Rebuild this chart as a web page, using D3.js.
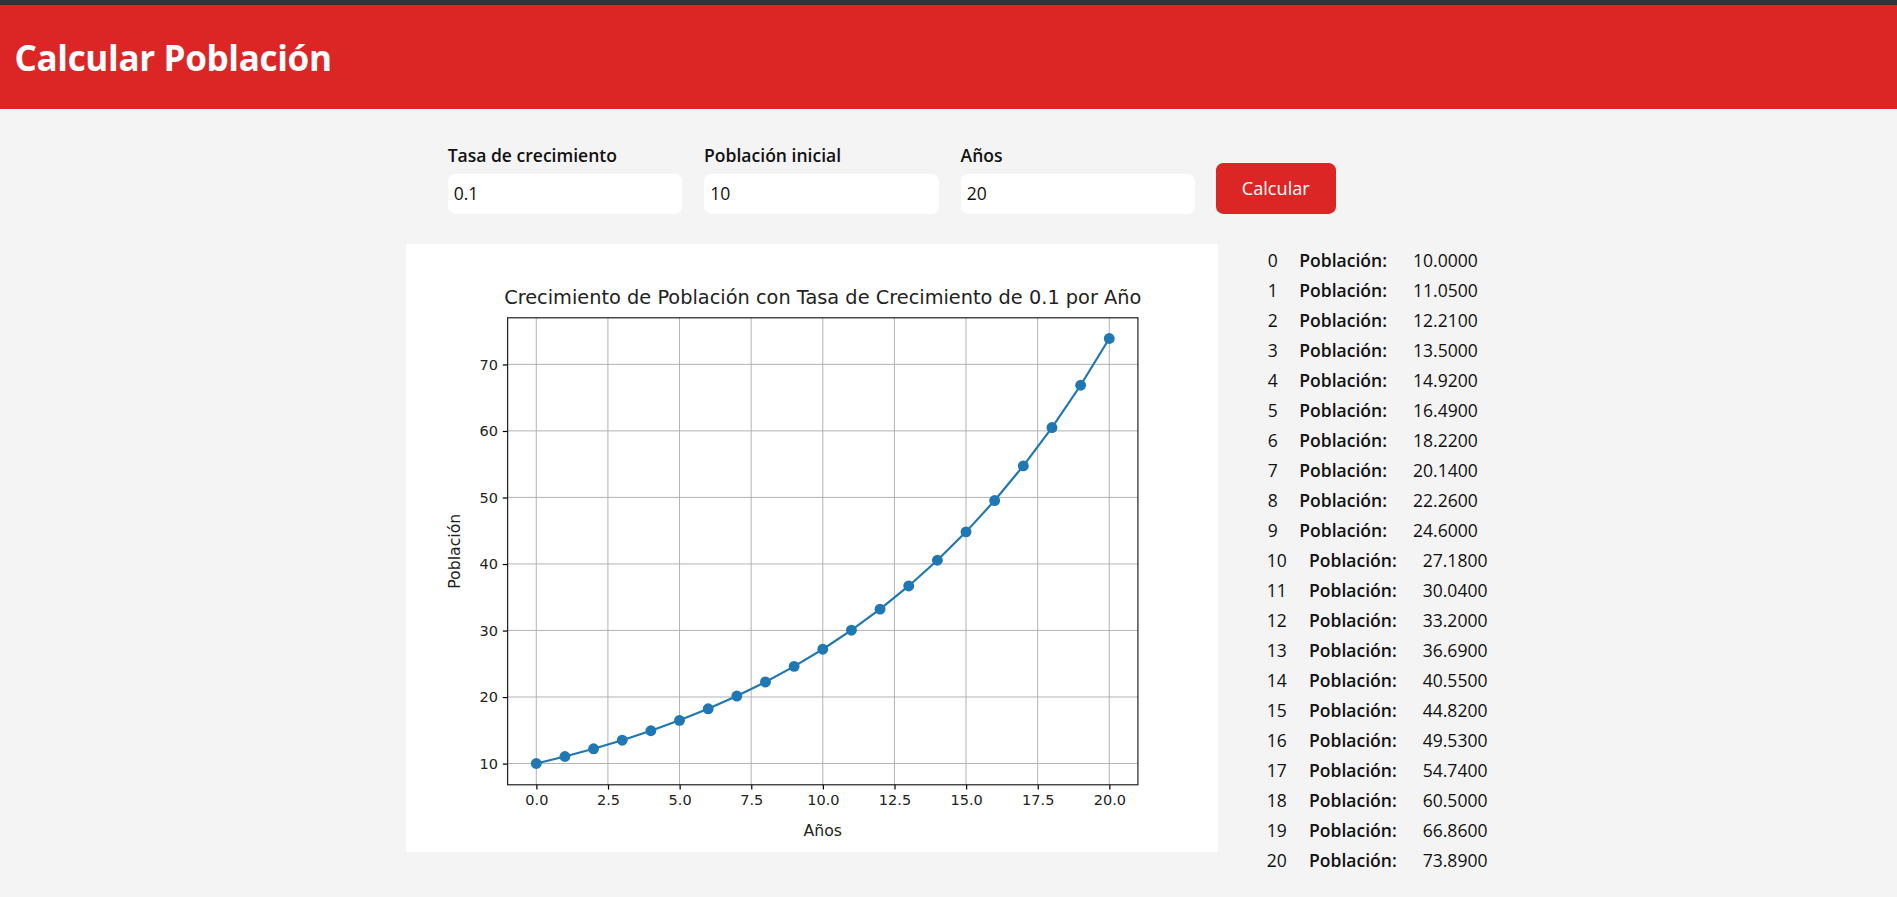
<!DOCTYPE html>
<html>
<head>
<meta charset="utf-8">
<script src="https://cdn.jsdelivr.net/npm/d3@7"></script>
<style>
  html, body { margin: 0; padding: 0; }
  body { zoom: 1.2098; background: #f4f4f4; font-family: "Open Sans", "Noto Sans", sans-serif; width: 1568px; height: 741px; position: relative; overflow: hidden; }
  #topbar { position: absolute; left: 0; top: 0; width: 1568px; height: 4px; background: #2f3238; }
  #header { position: absolute; left: 0; top: 4px; width: 1568px; height: 86px; background: #dc2626; }
  #header h1 { margin: 0; position: absolute; left: 12px; top: 24px; color: #fff; font-size: 29px; font-weight: 700; letter-spacing: -0.3px; }
  .field { position: absolute; top: 118px; }
  .field label { display: block; font-size: 14.5px; font-weight: 600; color: #111; height: 26px; }
  .field .inp { width: 189px; height: 33px; background: #fff; border-radius: 6px; padding-left: 5px; line-height: 33px; font-size: 14.5px; color: #111; }
  #btn { position: absolute; left: 1005px; top: 135px; width: 99px; height: 42px; background: #dc2626; color: #fff; border-radius: 6px; text-align: center; line-height: 42px; font-size: 15px; }
  #chart { position: absolute; left: 336px; top: 202px; width: 671px; height: 502px; background: #fff; }
  #table { position: absolute; left: 0; top: 0; }
  #table div { position: absolute; font-size: 14.5px; color: #111; white-space: nowrap; }
</style>
</head>
<body>
<div id="topbar"></div>
<div id="header"><h1>Calcular Población</h1></div>
<div class="field" style="left:370px"><label>Tasa de crecimiento</label><div class="inp">0.1</div></div>
<div class="field" style="left:582px"><label>Población inicial</label><div class="inp">10</div></div>
<div class="field" style="left:794px"><label>Años</label><div class="inp">20</div></div>
<div id="btn">Calcular</div>
<div id="chart"></div>
<div id="table"></div>
<script>
const years = d3.range(0, 21);
const poblacion = [10.00, 11.05, 12.21, 13.50, 14.92, 16.49, 18.22, 20.14, 22.26, 24.60,
  27.18, 30.04, 33.20, 36.69, 40.55, 44.82, 49.53, 54.74, 60.50, 66.86, 73.89];
const xTicks = [0, 2.5, 5, 7.5, 10, 12.5, 15, 17.5, 20];
const yTicks = [10, 20, 30, 40, 50, 60, 70];
const title = "Crecimiento de Población con Tasa de Crecimiento de 0.1 por Año";

const W = 671, H = 502;
const m = { left: 84, top: 61, right: 66, bottom: 55 };
const svg = d3.select("#chart").append("svg").attr("width", W).attr("height", H)
  .style("font-family", "DejaVu Sans, sans-serif");

const x = d3.scaleLinear().domain([-1, 21]).range([m.left, W - m.right]);
const y = d3.scaleLinear().domain([6.8, 77.0]).range([H - m.bottom, m.top]);

// grid
svg.append("g").selectAll("line").data(xTicks).join("line")
  .attr("x1", d => x(d)).attr("x2", d => x(d)).attr("y1", m.top).attr("y2", H - m.bottom)
  .attr("stroke", "#b0b0b0").attr("stroke-width", 0.8);
svg.append("g").selectAll("line").data(yTicks).join("line")
  .attr("y1", d => y(d)).attr("y2", d => y(d)).attr("x1", m.left).attr("x2", W - m.right)
  .attr("stroke", "#b0b0b0").attr("stroke-width", 0.8);

const xa = svg.append("g").attr("transform", `translate(0,${H - m.bottom})`)
  .call(d3.axisBottom(x).tickValues(xTicks).tickFormat(d3.format(".1f")).tickSize(4).tickPadding(4));
const ya = svg.append("g").attr("transform", `translate(${m.left},0)`)
  .call(d3.axisLeft(y).tickValues(yTicks).tickSize(4).tickPadding(4));
[xa, ya].forEach(a => {
  a.select(".domain").remove();
  a.selectAll("text").attr("font-size", 12).attr("fill", "#222").attr("font-family", "DejaVu Sans, sans-serif");
});

svg.append("rect").attr("x", m.left).attr("y", m.top)
  .attr("width", W - m.left - m.right).attr("height", H - m.top - m.bottom)
  .attr("fill", "none").attr("stroke", "#222").attr("stroke-width", 1);

svg.append("path").datum(years)
  .attr("d", d3.line().x(d => x(d)).y(d => y(poblacion[d])))
  .attr("fill", "none").attr("stroke", "#1f77b4").attr("stroke-width", 1.8);
svg.append("g").selectAll("circle").data(years).join("circle")
  .attr("cx", d => x(d)).attr("cy", d => y(poblacion[d])).attr("r", 4.5).attr("fill", "#1f77b4");

svg.append("text").attr("x", (m.left + W - m.right) / 2).attr("y", 50).attr("text-anchor", "middle")
  .attr("font-size", 16).attr("fill", "#222").text(title);
svg.append("text").attr("x", (m.left + W - m.right) / 2).attr("y", H - 13).attr("text-anchor", "middle")
  .attr("font-size", 13).attr("fill", "#222").text("Años");
svg.append("text").attr("transform", `translate(45,${(m.top + H - m.bottom) / 2}) rotate(-90)`)
  .attr("text-anchor", "middle").attr("font-size", 13).attr("fill", "#222").text("Población");

// table
const tbl = d3.select("#table");
years.forEach(i => {
  const top = 205 + i * 24.8;
  const shift = i >= 10 ? 8 : 0;
  tbl.append("div").style("left", (1048 - (i >= 10 ? 1 : 0)) + "px").style("top", top + "px").text(i);
  tbl.append("div").style("left", (1074 + shift) + "px").style("top", top + "px").style("font-weight", 600).text("Población:");
  tbl.append("div").style("left", (1168 + shift) + "px").style("top", top + "px").text(poblacion[i].toFixed(4));
});
</script>
</body>
</html>
